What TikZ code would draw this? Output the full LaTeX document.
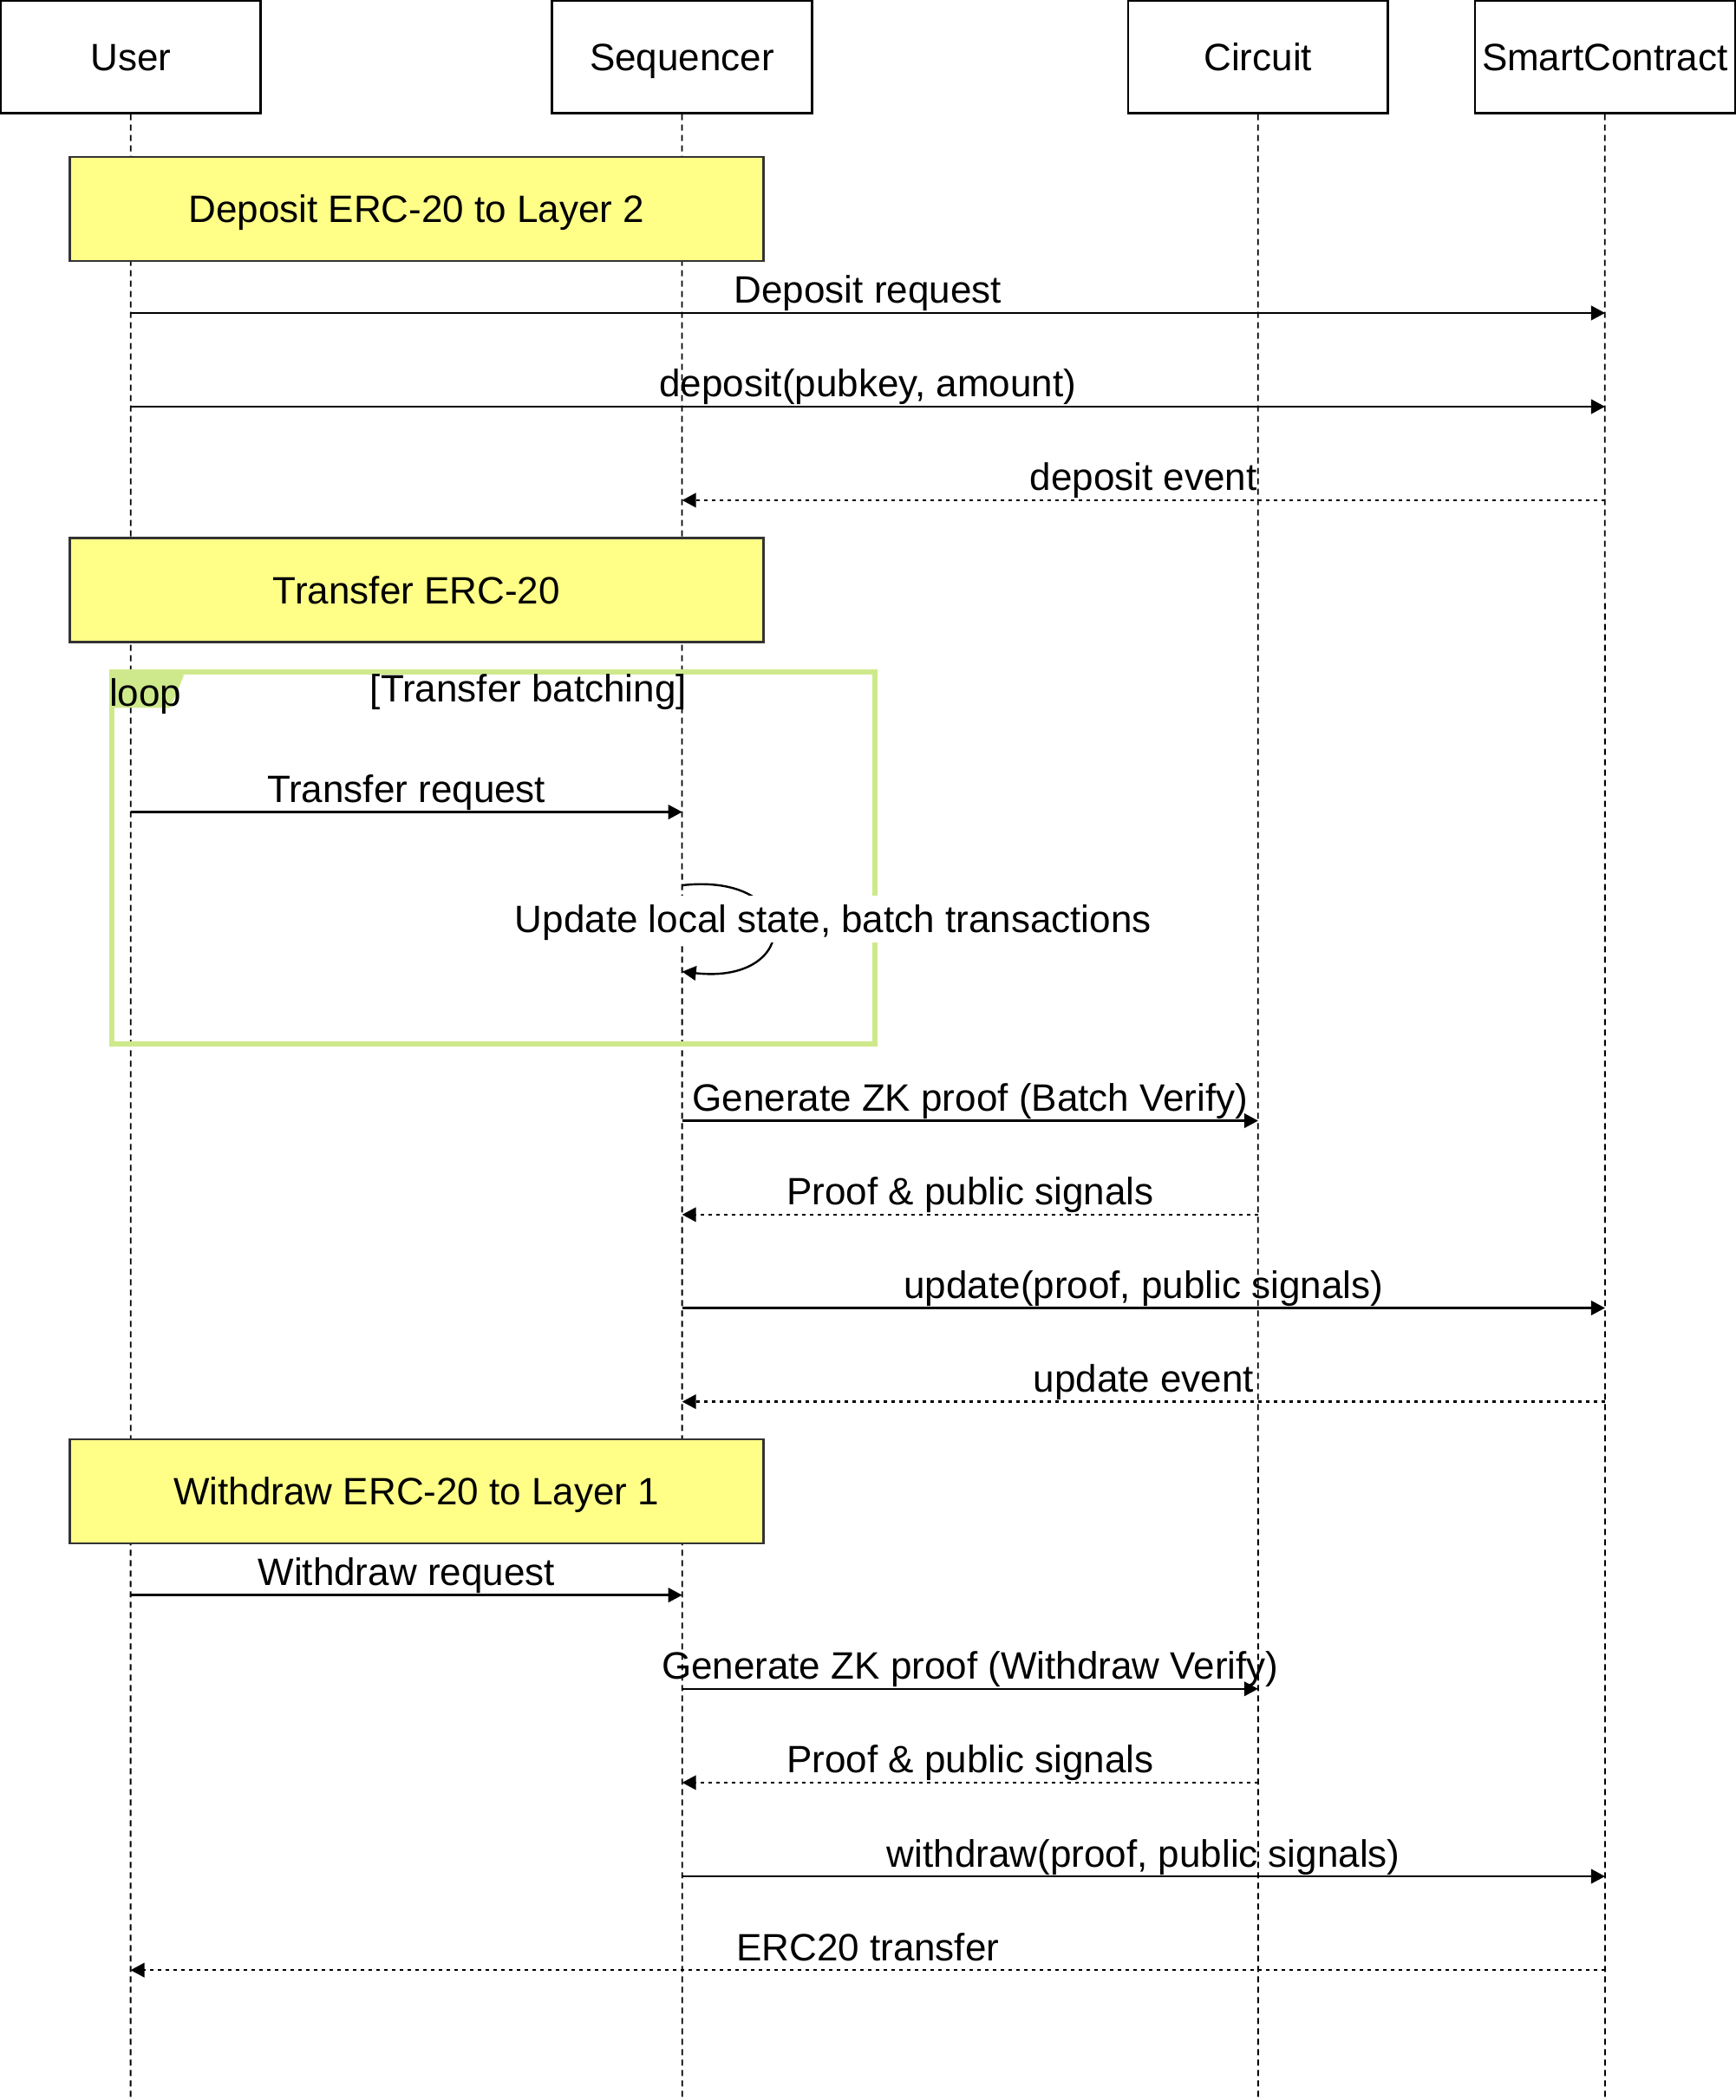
\documentclass[tikz,border=0pt]{standalone}
\usepackage{fontspec}
\setmainfont{Liberation Sans}
\usetikzlibrary{arrows.meta}
\definecolor{notefill}{RGB}{255,255,136}
\definecolor{notedraw}{RGB}{51,51,51}
\definecolor{loopgreen}{RGB}{206,233,140}
\begin{document}
\begin{tikzpicture}[x=1.5448pt,y=-1.5448pt,
  font=\fontsize{44}{52}\selectfont,
  actor/.style={draw=black, line width=2.5pt, fill=white, minimum width=300pt, minimum height=130pt, inner sep=0pt, text height=31.5pt, text depth=0pt},
  lifeline/.style={line width=1.8pt, dash pattern=on 7pt off 5pt},
  msg/.style={line width=2.4pt, -{Triangle[length=16pt,width=16.5pt]}},
  reply/.style={msg, dash pattern=on 4pt off 5pt},
  notebox/.style={draw=notedraw, fill=notefill, line width=2.4pt, minimum width=800pt, minimum height=120pt, inner sep=0pt, text height=31.5pt, text depth=0pt},
  mlabel/.style={midway, anchor=base, yshift=11pt, inner sep=0pt}
]
\useasboundingbox (0,0) rectangle (1296,1568);

% actors
\node[actor] (user) at (97.6,42.3) {User};
\node[actor] (seq) at (509.2,42.3) {Sequencer};
\node[actor] (circ) at (939.2,42.3) {Circuit};
\node[actor] (sc) at (1198.2,42.3) {SmartContract};

% lifelines
\coordinate (userEnd) at (97.5,1572);
\coordinate (seqEnd) at (509.3,1572);
\coordinate (circEnd) at (939.3,1572);
\coordinate (scEnd) at (1198.3,1572);
\draw[lifeline] (user.south) -- (userEnd);
\draw[lifeline] (seq.south) -- (seqEnd);
\draw[lifeline] (circ.south) -- (circEnd);
\draw[lifeline] (sc.south) -- (scEnd);

% notes
\node[notebox] (note1) at (311,156) {Deposit ERC-20 to Layer 2};
\node[notebox] (note2) at (311,440.5) {Transfer ERC-20};
\node[notebox] (note3) at (311,1113.5) {Withdraw ERC-20 to Layer 1};

% loop frame
\fill[loopgreen] (83.4,501.7) -- (137,501.7) -- (137,505) -- (127,528.5) -- (83.4,528.5) -- cycle;
\node[draw=loopgreen, line width=5.7pt, minimum width=880pt, minimum height=429pt, inner sep=0pt] (loopframe) at (368.2,640.6) {};
\node[anchor=base west, inner sep=0pt] (looplbl) at (81.5,527.5) {loop};
\node[anchor=base, inner sep=0pt] (loopcond) at (394.5,524) {[Transfer batching]};

% message end points
\coordinate (m1a) at (97.5,233.7);  \coordinate (m1b) at (1198.3,233.7);
\coordinate (m2a) at (97.5,303.6);  \coordinate (m2b) at (1198.3,303.6);
\coordinate (m3a) at (1198.3,373.5); \coordinate (m3b) at (509.3,373.5);
\coordinate (m4a) at (97.5,606.3);  \coordinate (m4b) at (509.3,606.3);
\coordinate (selfA) at (509.3,661);  \coordinate (selfB) at (509.3,725.5);
\coordinate (m6a) at (509.3,836.8); \coordinate (m6b) at (939.3,836.8);
\coordinate (m7a) at (939.3,906.9); \coordinate (m7b) at (509.3,906.9);
\coordinate (m8a) at (509.3,976.6); \coordinate (m8b) at (1198.3,976.6);
\coordinate (m9a) at (1198.3,1046.6); \coordinate (m9b) at (509.3,1046.6);
\coordinate (m10a) at (97.5,1191); \coordinate (m10b) at (509.3,1191);
\coordinate (m11a) at (509.3,1261); \coordinate (m11b) at (939.3,1261);
\coordinate (m12a) at (939.3,1331); \coordinate (m12b) at (509.3,1331);
\coordinate (m13a) at (509.3,1401); \coordinate (m13b) at (1198.3,1401);
\coordinate (m14a) at (1198.3,1471); \coordinate (m14b) at (97.5,1471);

% messages
\draw[msg] (m1a) -- node[mlabel] (l1) {Deposit request} (m1b);
\draw[msg] (m2a) -- node[mlabel] (l2) {deposit(pubkey, amount)} (m2b);
\draw[reply] (m3a) -- node[mlabel] (l3) {deposit event} (m3b);
\draw[msg] (m4a) -- node[mlabel] (l4) {Transfer request} (m4b);
\draw[msg] (selfA) .. controls +(90,-10) and +(90,10) .. (selfB);
\node[anchor=base, fill=white, inner xsep=3pt, inner ysep=0pt, text height=42.5pt, text depth=11.6pt] (selflbl) at (622,696.5) {Update local state, batch transactions};
\draw[msg] (m6a) -- node[mlabel] (l6) {Generate ZK proof (Batch Verify)} (m6b);
\draw[reply] (m7a) -- node[mlabel] (l7) {Proof \& public signals} (m7b);
\draw[msg] (m8a) -- node[mlabel] (l8) {update(proof, public signals)} (m8b);
\draw[reply] (m9a) -- node[mlabel] (l9) {update event} (m9b);
\draw[msg] (m10a) -- node[mlabel] (l10) {Withdraw request} (m10b);
\draw[msg] (m11a) -- node[mlabel] (l11) {Generate ZK proof (Withdraw Verify)} (m11b);
\draw[reply] (m12a) -- node[mlabel] (l12) {Proof \& public signals} (m12b);
\draw[msg] (m13a) -- node[mlabel] (l13) {withdraw(proof, public signals)} (m13b);
\draw[reply] (m14a) -- node[mlabel] (l14) {ERC20 transfer} (m14b);
\end{tikzpicture}
\end{document}
